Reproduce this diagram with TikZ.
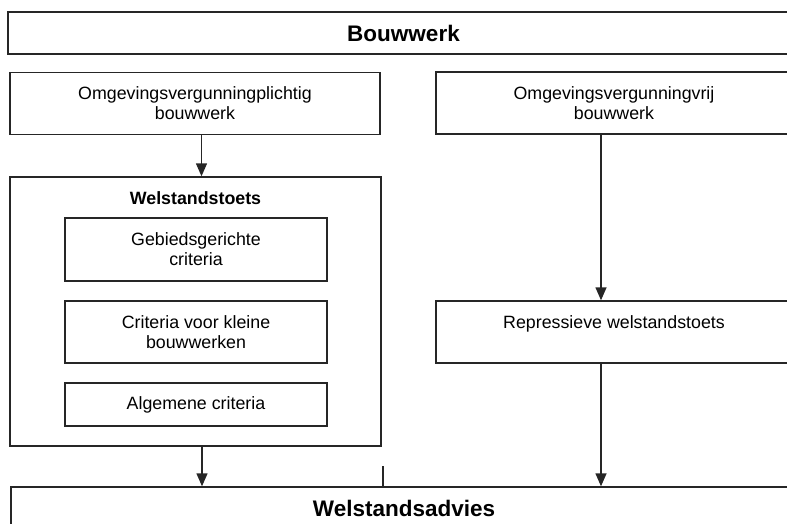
\documentclass[tikz,border=0pt]{standalone}
\usepackage{fontspec}
\setmainfont{Liberation Sans}
\usetikzlibrary{arrows.meta}

\begin{document}
\begin{tikzpicture}[x=1pt,y=-1pt,>={Triangle[length=13pt,width=11pt]},line width=1.4pt,
  box node/.style={rectangle,draw=black!85,align=center,inner sep=0pt,
    font=\fontsize{17.8}{20}\selectfont},
  head node/.style={box node,font=\bfseries\fontsize{22.5}{26}\selectfont},
  flow/.style={->,draw=black!85}]
  \useasboundingbox (0,0) rectangle (787,524);
  \clip (0,0) rectangle (787,524);

  \node[head node,minimum width=791,minimum height=42] (bouwwerk) at (403.5,33) {Bouwwerk};
  \node[box node,minimum width=370,minimum height=62] (plichtig) at (195,103.5)
    {Omgevingsvergunningplichtig\\bouwwerk};
  \node[box node,minimum width=356,minimum height=62] (vrij) at (614,103)
    {Omgevingsvergunningvrij\\bouwwerk};

  % welstandstoets met criteria
  \node[box node,minimum width=371,minimum height=269] (toets) at (195.5,311.5) {};
  \node[font=\bfseries\fontsize{17.8}{20}\selectfont] (toetstitel) at (195.5,198) {Welstandstoets};
  \node[box node,minimum width=262,minimum height=63] (gebied) at (196,249.5)
    {Gebiedsgerichte\\criteria};
  \node[box node,minimum width=262,minimum height=62] (klein) at (196,332)
    {Criteria voor kleine\\bouwwerken};
  \node[box node,minimum width=262,minimum height=43] (algemeen) at (196,404.5)
    {Algemene criteria};

  \node[box node,minimum width=356,minimum height=62] (repressief) at (614,332)
    {Repressieve welstandstoets\\\mbox{}};
  \node[head node,minimum width=786,minimum height=42] (advies) at (404,508) {Welstandsadvies};
  \coordinate (stub) at (383,466);

  \draw[flow] ([xshift=6.5]plichtig.south) -- ([xshift=6.5]plichtig.south |- toets.north);
  \draw[flow] ([xshift=-13]vrij.south) -- ([xshift=-13]vrij.south |- repressief.north);
  \draw[flow] ([xshift=6.5]toets.south) -- ([xshift=6.5]toets.south |- advies.north);
  \draw[flow] ([xshift=-13]repressief.south) -- ([xshift=-13]repressief.south |- advies.north);
  \draw[black!85] (stub) -- (stub |- advies.north);
\end{tikzpicture}
\end{document}
